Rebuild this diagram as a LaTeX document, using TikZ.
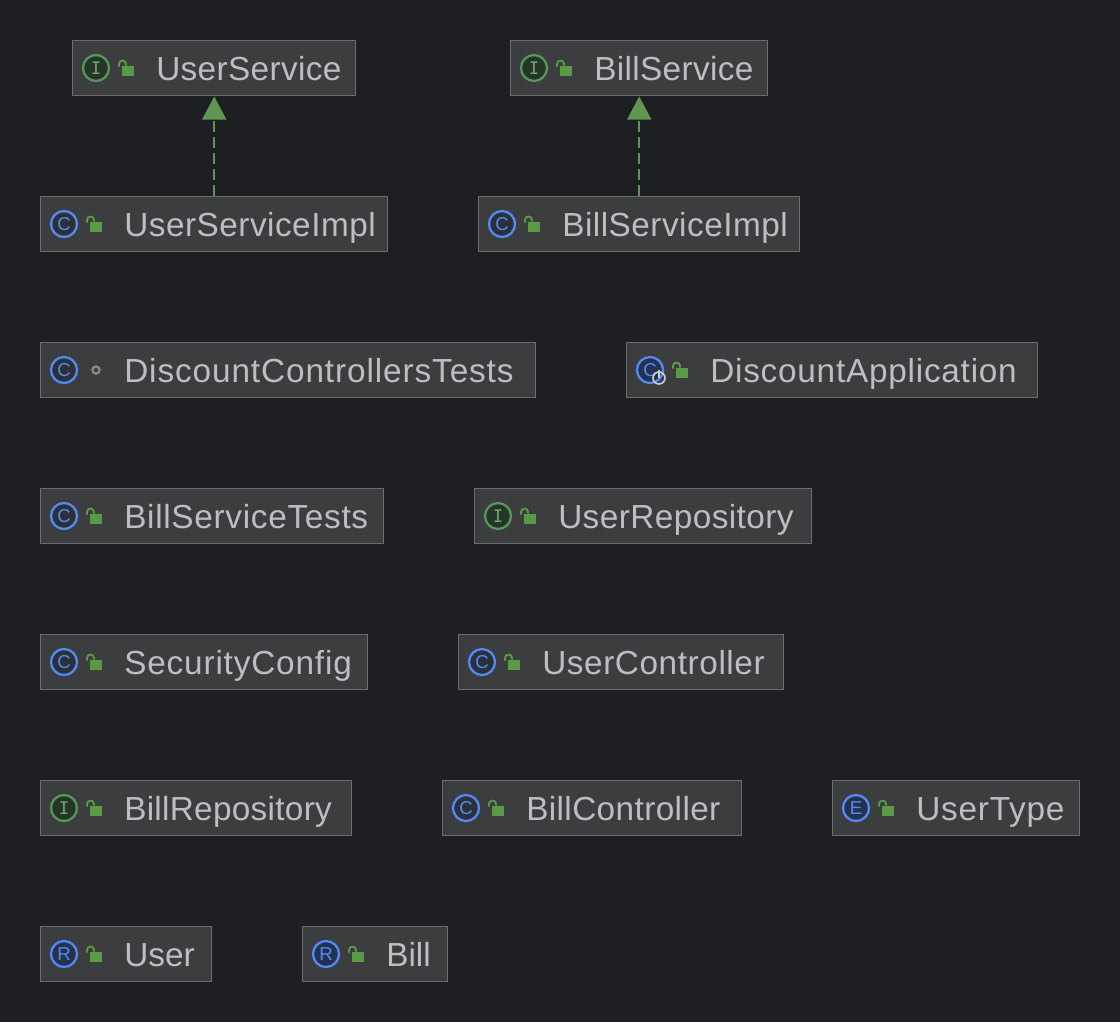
\documentclass[tikz,border=0pt]{standalone}
\usepackage{fontspec}
\usetikzlibrary{arrows.meta}
\setmainfont{Liberation Sans}
\newfontfamily\iconfont{DejaVu Sans Mono}
\newcommand{\spaced}[2]{{\addfontfeature{LetterSpace=#1}#2}}
\definecolor{bg}{HTML}{1E1F22}
\definecolor{boxfill}{HTML}{3C3D3E}
\definecolor{boxline}{HTML}{6B6C6D}
\definecolor{txt}{HTML}{BCBEC4}
\definecolor{lockgreen}{HTML}{5B9A45}
\definecolor{arrowgreen}{HTML}{5F9650}
\definecolor{ifline}{HTML}{57965C}
\definecolor{iffill}{HTML}{253627}
\definecolor{clsline}{HTML}{548AF7}
\definecolor{clsfill}{HTML}{25324D}
\definecolor{clsplain}{HTML}{2C3138}
\definecolor{privgray}{HTML}{868A91}
\definecolor{runwhite}{HTML}{CED0D6}
\tikzset{
  x=0.75pt,y=-0.75pt,
  umlbox/.style={draw=boxline,fill=boxfill,line width=1.1pt,inner sep=0pt,anchor=north west},
  umllabel/.style={text=txt,inner sep=0pt,anchor=base west,font=\fontsize{25}{28}\selectfont},
  icon/.style={circle,line width=1.7pt,minimum size=19.5pt,inner sep=0pt,font=\fontsize{14}{15}\selectfont},
  iconI/.style={icon,draw=ifline,fill=iffill,text=ifline!85!white,font=\iconfont\fontsize{13}{14}\selectfont},
  iconC/.style={icon,draw=clsline,fill=clsplain,text=clsline},
  iconA/.style={icon,draw=clsline,fill=clsfill,text=clsline},
  impl/.style={draw=arrowgreen,line width=1.8pt,dash pattern=on 8.25pt off 3.75pt,
    -{Triangle[length=17.5pt,width=18pt,fill=arrowgreen]},shorten >=0.2pt},
}
% name, x0, y0, x1, icon style, icon letter, label, visibility code
\newcommand{\umlclass}[8]{%
  \node[umlbox,minimum width={(#4-#2+1)*0.75pt},minimum height=41pt] (#1) at (#2-1,#3-1) {};
  \node[#5] (#1-icon) at (#2+23,#3+27) {#6};
  \node[umllabel] (#1-label) at (#2+83,#3+39) {#7};
  \begin{scope}[shift={(#2,#3)}]#8\end{scope}
}
\newcommand{\publock}{%
  \fill[lockgreen] (48.5,25) rectangle (61,35);
  \draw[lockgreen,line width=1.4pt] (46,25.5) -- (46,23) arc[start angle=180,end angle=360,x radius=3.5,y radius=3.5] -- (53,24.5);
}
\newcommand{\pkgdot}{%
  \draw[privgray,line width=1.7pt] (55,27) circle[radius=3.6];
}
\begin{document}
\begin{tikzpicture}
\useasboundingbox (0,0) rectangle (1120,1022);
\fill[bg] (0,0) rectangle (1120,1022);
\umlclass{userservice}{73}{41}{355}{iconI}{I}{\spaced{1.1}{UserService}}{\publock}
\umlclass{billservice}{511}{41}{767}{iconI}{I}{\spaced{1.1}{BillService}}{\publock}
\umlclass{userserviceimpl}{41}{197}{387}{iconC}{C}{\spaced{1.5}{UserServiceImpl}}{\publock}
\umlclass{billserviceimpl}{479}{197}{799}{iconC}{C}{\spaced{1.5}{BillServiceImpl}}{\publock}
\umlclass{tests}{41}{343}{535}{iconC}{C}{\spaced{2.7}{DiscountControllersTests}}{\pkgdot}
\umlclass{app}{627}{343}{1037}{iconA}{C}{\spaced{2.3}{DiscountApplication}}{\publock}
\umlclass{billtests}{41}{489}{383}{iconC}{C}{\spaced{2.1}{BillServiceTests}}{\publock}
\umlclass{userrepo}{475}{489}{811}{iconI}{I}{\spaced{1.3}{UserRepository}}{\publock}
\umlclass{security}{41}{635}{367}{iconC}{C}{\spaced{2.5}{SecurityConfig}}{\publock}
\umlclass{usercontroller}{459}{635}{783}{iconC}{C}{\spaced{1.75}{UserController}}{\publock}
\umlclass{billrepo}{41}{781}{351}{iconI}{I}{\spaced{0.9}{BillRepository}}{\publock}
\umlclass{billcontroller}{443}{781}{741}{iconC}{C}{\spaced{1.2}{BillController}}{\publock}
\umlclass{usertype}{833}{781}{1079}{iconA}{E}{\spaced{2.4}{UserType}}{\publock}
\umlclass{user}{41}{927}{211}{iconA}{R}{\spaced{0.1}{User}}{\publock}
\umlclass{bill}{303}{927}{447}{iconA}{R}{Bill}{\publock}
% run marker on DiscountApplication
\draw[runwhite,line width=1.2pt] (659,378) circle[radius=6];
\draw[runwhite,line width=1.2pt] (659,370) -- (659,378);
% realisation connectors
\draw[impl] (userserviceimpl.north) -- (userservice.south);
\draw[impl] (billserviceimpl.north) -- (billservice.south);
\end{tikzpicture}
\end{document}
